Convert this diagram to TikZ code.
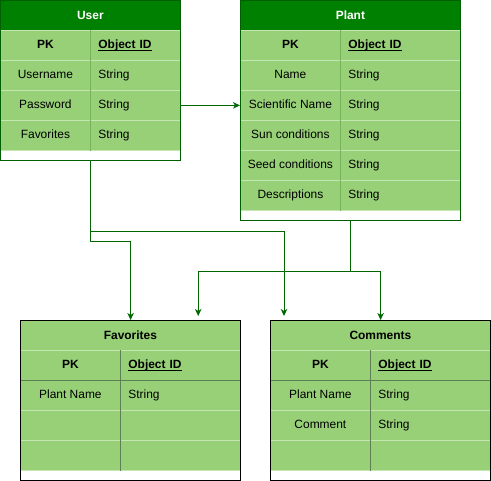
\documentclass[tikz,border=0pt]{standalone}
\usepackage{fontspec}
\setmainfont{Liberation Sans}
\usetikzlibrary{arrows.meta, positioning}
\definecolor{headGreen}{RGB}{0, 128, 0}
\definecolor{rowGreen}{RGB}{151, 208, 119}
\definecolor{rowLine}{RGB}{196, 230, 176}
\definecolor{colLine}{RGB}{118, 180, 92}
\definecolor{frameGreen}{RGB}{0, 95, 0}
\definecolor{linkGreen}{RGB}{0, 102, 0}
\definecolor{gridGrey}{RGB}{96, 128, 84}
\tikzset{
    % Table cells
    cellBox/.style={
        rectangle,
        anchor=north west,
        minimum height=30bp,
        fill=rowGreen,
        draw=rowLine,
        line width=0.8bp,
        text height=8.5bp,
        text depth=2.5bp,
        font=\fontsize{12}{14}\selectfont
    },
    keyCell/.style={cellBox, inner sep=0pt, align=center},
    typeCell/.style={cellBox, inner xsep=8bp, inner ysep=0pt, align=left},
    % Headers & frames
    headBar/.style={
        rectangle, anchor=north west, minimum height=30bp, inner sep=0pt,
        fill=headGreen, draw=frameGreen, line width=0.8bp, text=white,
        font=\bfseries\fontsize{12}{14}\selectfont
    },
    lightHead/.style={headBar, fill=rowGreen, draw=gridGrey, text=black},
    frameBox/.style={rectangle, anchor=north west, inner sep=0pt, draw=frameGreen, line width=1.2bp},
    colRule/.style={draw=colLine, line width=0.8bp},
    gridRule/.style={draw=gridGrey, line width=0.8bp},
    % Connectors
    link/.style={-{Stealth[length=7bp, width=6.5bp, inset=2bp]}, draw=linkGreen, line width=1bp}
}
\newcommand{\keyid}{\textbf{\underline{\smash{Object ID}}}}
\begin{document}
\begin{tikzpicture}[x=1bp, y=-1bp]

    \path [use as bounding box, fill=white] (0,0) rectangle (491,481);

    % --- USER TABLE (Top Left) ---
    \node (userHead) [headBar, minimum width=180bp] at (0,0) {User};
    \node (userK0) [keyCell, minimum width=90bp] at (0,30) {\textbf{PK}};
    \node (userT0) [typeCell, text width=74bp] at (90,30) {\keyid};
    \foreach \key/\kind [count=\i] in {Username/String, Password/String, Favorites/String} {
        \node (userK\i) [keyCell, minimum width=90bp] at (0,30+30*\i) {\key};
        \node (userT\i) [typeCell, text width=74bp] at (90,30+30*\i) {\kind};
    }
    \draw [colRule] (userT0.north west) -- (userT3.south west);
    \node (user) [frameBox, minimum width=180bp, minimum height=160bp] at (0,0) {};

    % --- PLANT TABLE (Top Right) ---
    \node (plantHead) [headBar, minimum width=220bp] at (240,0) {Plant};
    \node (plantK0) [keyCell, minimum width=100bp] at (240,30) {\textbf{PK}};
    \node (plantT0) [typeCell, text width=104bp] at (340,30) {\keyid};
    \foreach \key/\kind [count=\i] in {Name/String, Scientific Name/String, Sun conditions/String, Seed conditions/String, Descriptions/String} {
        \node (plantK\i) [keyCell, minimum width=100bp] at (240,30+30*\i) {\key};
        \node (plantT\i) [typeCell, text width=104bp] at (340,30+30*\i) {\kind};
    }
    \draw [colRule] (plantT0.north west) -- (plantT5.south west);
    \node (plant) [frameBox, minimum width=220bp, minimum height=220bp] at (240,0) {};

    % --- FAVORITES TABLE (Bottom Left) ---
    \node (favHead) [lightHead, minimum width=220bp] at (20,320) {Favorites};
    \foreach \key/\kind [count=\i] in {Plant Name/String, {}/{}, {}/{}} {
        \node (favK\i) [keyCell, minimum width=100bp] at (20,350+30*\i) {\key};
        \node (favT\i) [typeCell, text width=104bp] at (120,350+30*\i) {\kind};
    }
    \node (favK0) [keyCell, minimum width=100bp] at (20,350) {\textbf{PK}};
    \node (favT0) [typeCell, text width=104bp] at (120,350) {\keyid};
    \draw [gridRule] (favK0.south west) -- (favT0.south east);
    \draw [gridRule] (favT0.north west) -- (favT3.south west);
    \node (favorites) [frameBox, draw=black, minimum width=220bp, minimum height=160bp] at (20,320) {};

    % --- COMMENTS TABLE (Bottom Right) ---
    \node (comHead) [lightHead, minimum width=220bp] at (270,320) {Comments};
    \foreach \key/\kind [count=\i] in {Plant Name/String, Comment/String, {}/{}} {
        \node (comK\i) [keyCell, minimum width=100bp] at (270,350+30*\i) {\key};
        \node (comT\i) [typeCell, text width=104bp] at (370,350+30*\i) {\kind};
    }
    \node (comK0) [keyCell, minimum width=100bp] at (270,350) {\textbf{PK}};
    \node (comT0) [typeCell, text width=104bp] at (370,350) {\keyid};
    \draw [gridRule] (comK0.south west) -- (comT0.south east);
    \draw [gridRule] (comT0.north west) -- (comT3.south west);
    \node (comments) [frameBox, draw=black, minimum width=220bp, minimum height=160bp] at (270,320) {};

    % --- Connectors ---
    \draw [link] (userT2.east) -- (plantK2.west);
    \draw [link] (user.south) -- ++(0,70) -| ([xshift=14bp, yshift=4bp]comments.north west);
    \draw [link] (user.south) -- ++(0,80) -| (favorites.north);
    \draw [link] (plant.south) -- ++(0,50) -| ([xshift=-43bp, yshift=4bp]favorites.north east);
    \draw [link] (plant.south) -- ++(0,50) -| (comments.north);

\end{tikzpicture}
\end{document}
